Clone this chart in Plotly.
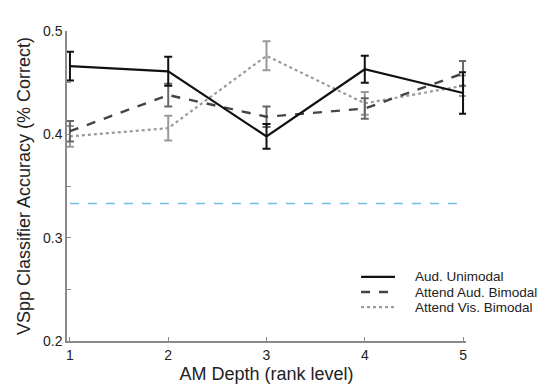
import plotly.graph_objects as go

depth = [1, 2, 3, 4, 5]
aud_uni = [0.466, 0.461, 0.398, 0.463, 0.440]
aud_uni_err = [0.014, 0.014, 0.012, 0.013, 0.020]
att_aud_bi = [0.403, 0.438, 0.417, 0.425, 0.459]
att_aud_bi_err = [0.010, 0.011, 0.010, 0.010, 0.012]
att_vis_bi = [0.398, 0.406, 0.476, 0.430, 0.447]
att_vis_bi_err = [0.010, 0.012, 0.014, 0.011, 0.010]
chance_x = [1, 5]
chance_y = [0.333, 0.333]
legend_names = ["Aud. Unimodal", "Attend Aud. Bimodal", "Attend Vis. Bimodal"]
y_ticks = [0.2, 0.3, 0.4, 0.5]
x_ticks = [1, 2, 3, 4, 5]

FONT = "Liberation Sans, Arial, sans-serif"

fig = go.Figure()

fig.add_trace(go.Scatter(
    x=chance_x, y=chance_y, mode="lines",
    line=dict(color="#72bde0", width=1.5, dash="dash"),
    showlegend=False, hoverinfo="skip"))

fig.add_trace(go.Scatter(
    x=depth, y=att_vis_bi, mode="lines", name=legend_names[2],
    line=dict(color="#9a9a9a", width=2.2, dash="dot"),
    error_y=dict(type="data", array=att_vis_bi_err, color="#9a9a9a", thickness=2, width=4),
    cliponaxis=False, showlegend=False))

fig.add_trace(go.Scatter(
    x=depth, y=att_aud_bi, mode="lines", name=legend_names[1],
    line=dict(color="#444444", width=2.4, dash="dash"),
    error_y=dict(type="data", array=att_aud_bi_err, color="#666666", thickness=2, width=4),
    cliponaxis=False, showlegend=False))

fig.add_trace(go.Scatter(
    x=depth, y=aud_uni, mode="lines", name=legend_names[0],
    line=dict(color="#111111", width=2.2),
    error_y=dict(type="data", array=aud_uni_err, color="#111111", thickness=2, width=4),
    cliponaxis=False, showlegend=False))

# custom compact legend
styles = [
    dict(color="#111111", width=2.2, dash="solid"),
    dict(color="#444444", width=2.4, dash="dash"),
    dict(color="#9a9a9a", width=2.2, dash="dot"),
]
rows_y = [0.207, 0.158, 0.109]
shapes = []
annotations = []
for name, st, yy in zip(legend_names, styles, rows_y):
    shapes.append(dict(type="line", xref="paper", yref="paper",
                       x0=0.737, x1=0.822, y0=yy, y1=yy, line=st))
    annotations.append(dict(text=name, xref="paper", yref="paper",
                            x=0.866, y=yy, xanchor="left", yanchor="middle",
                            showarrow=False,
                            font=dict(family=FONT, size=13.5, color="#222222")))

fig.update_layout(
    width=551, height=392,
    margin=dict(l=67, r=85, t=31, b=51),
    paper_bgcolor="white", plot_bgcolor="white",
    font=dict(family=FONT, size=14, color="#222222"),
    shapes=shapes, annotations=annotations,
    showlegend=False,
)

fig.update_xaxes(
    range=[0.97, 5.03], tickvals=x_ticks, ticktext=[str(v) for v in x_ticks],
    showgrid=False, zeroline=False,
    showline=True, linecolor="#8a8a8a", linewidth=1.5,
    ticks="inside", ticklen=4, tickcolor="#8a8a8a", tickwidth=1,
    tickfont=dict(family=FONT, size=14, color="#222222"),
    title=dict(text="AM Depth (rank level)", standoff=6,
               font=dict(family=FONT, size=18, color="#222222")),
)
fig.update_yaxes(
    range=[0.2, 0.5], tickvals=y_ticks, ticktext=[f"{v:.1f}" for v in y_ticks],
    showgrid=False, zeroline=False,
    showline=True, linecolor="#8a8a8a", linewidth=1.5,
    ticks="inside", ticklen=4, tickcolor="#8a8a8a", tickwidth=1,
    minor=dict(dtick=0.05, tick0=0.2, ticks="inside", ticklen=4, tickcolor="#8a8a8a", showgrid=False),
    tickfont=dict(family=FONT, size=14, color="#222222"),
    title=dict(text="VSpp Classifier Accuracy (% Correct)", standoff=8,
               font=dict(family=FONT, size=18, color="#222222")),
)

fig.write_html("out.html")
